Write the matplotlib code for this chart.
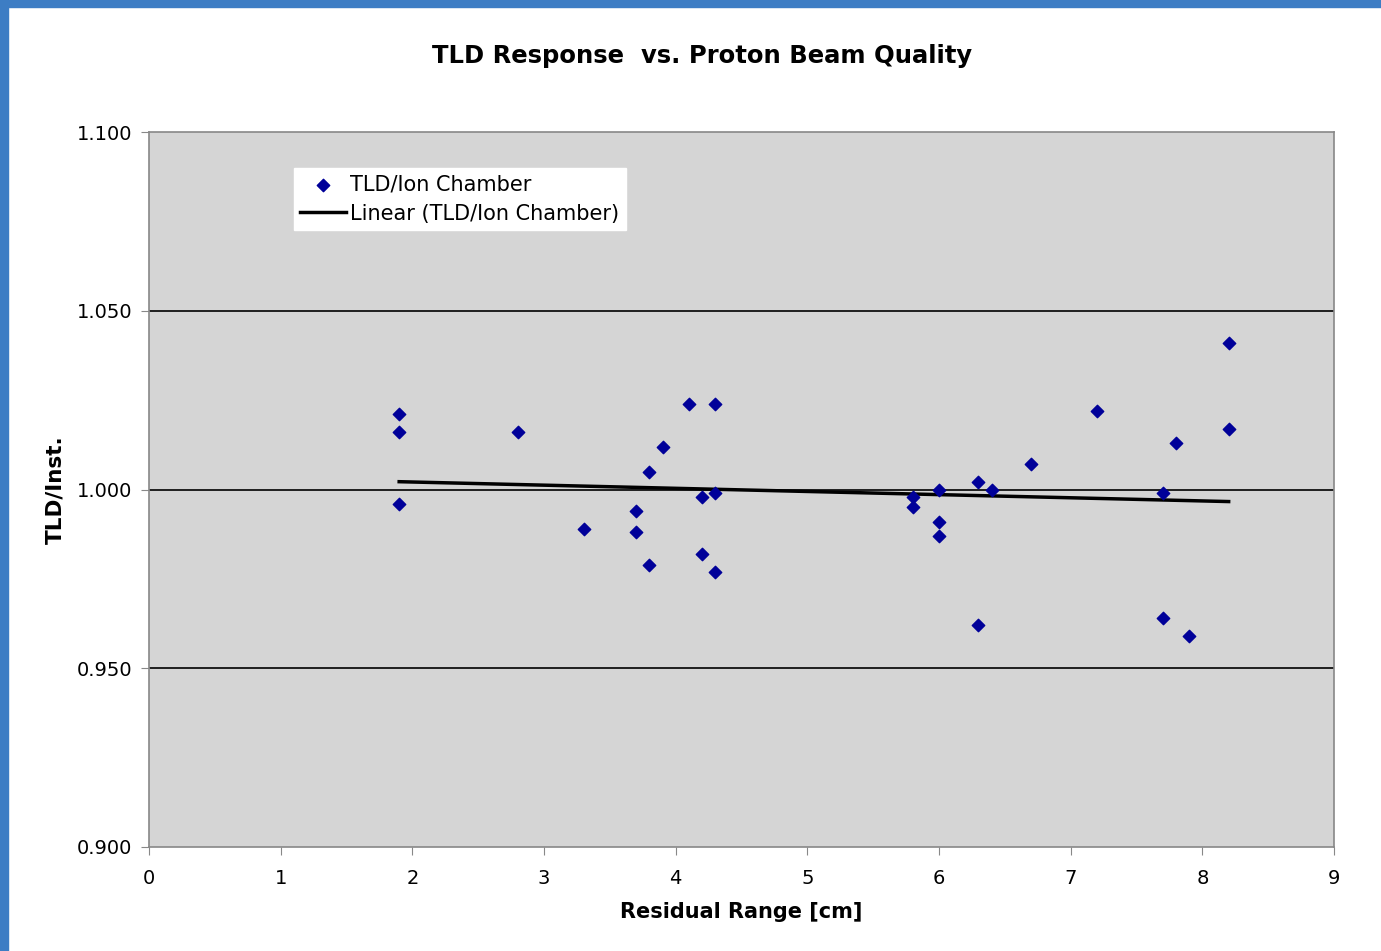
import matplotlib
matplotlib.use("Agg")
import matplotlib.pyplot as plt
import numpy as np
from matplotlib.patches import Rectangle

x_vals = [1.9, 1.9, 1.9, 2.8, 3.3, 3.7, 3.7, 3.8, 3.8, 3.9, 4.1, 4.2, 4.2, 4.3, 4.3, 4.3,
          5.8, 5.8, 6.0, 6.0, 6.0, 6.3, 6.3, 6.4, 6.7, 7.2, 7.7, 7.7, 7.8, 7.9, 8.2, 8.2]
y_vals = [1.021, 1.016, 0.996, 1.016, 0.989, 0.994, 0.988, 1.005, 0.979, 1.012, 1.024, 0.998, 0.982,
          1.024, 0.999, 0.977, 0.998, 0.995, 1.000, 0.991, 0.987, 1.002, 0.962, 1.000, 1.007,
          1.022, 0.999, 0.964, 1.013, 0.959, 1.041, 1.017]
x_ticks = [0, 1, 2, 3, 4, 5, 6, 7, 8, 9]
y_ticks = [0.900, 0.950, 1.000, 1.050, 1.100]

fig = plt.figure(figsize=(13.81, 9.51), dpi=100)
fig.patch.set_facecolor("white")
blue = "#3d7dc4"
fig.patches.append(Rectangle((0, 0), 8/1381, 1, transform=fig.transFigure, color=blue, zorder=-10))
fig.patches.append(Rectangle((0, 1-7/951), 1, 7/951, transform=fig.transFigure, color=blue, zorder=-10))

ax = fig.add_axes([149/1381, 1-847/951, (1334-149)/1381, (847-132)/951])
ax.set_facecolor("#d5d5d5")
ax.set_xlim(0, 9)
ax.set_ylim(0.9, 1.1)
ax.set_xticks(x_ticks)
ax.set_yticks(y_ticks)
ax.set_yticklabels([f"{v:.3f}" for v in y_ticks])
for yv in y_ticks[1:-1]:
    ax.axhline(yv, color="black", lw=1.2, zorder=1)
for s in ax.spines.values():
    s.set_color("#888888")
    s.set_linewidth(1.2)
ax.tick_params(axis="both", labelsize=14, color="#888888", length=6, direction="out")
ax.tick_params(axis="x", pad=10)
ax.tick_params(axis="y", pad=6)

ax.scatter(x_vals, y_vals, marker="D", s=40, color="#000099", zorder=3, label="TLD/Ion Chamber")
coef = np.polyfit(x_vals, y_vals, 1)
xl = np.array([min(x_vals), max(x_vals)])
ax.plot(xl, np.polyval(coef, xl), color="black", lw=2.5, zorder=2, label="Linear (TLD/Ion Chamber)")

leg = ax.legend(loc="upper left", bbox_to_anchor=((294-149)/1185, 1-(168-132)/715),
                fontsize=15, frameon=True, fancybox=False, edgecolor="white", framealpha=1,
                handlelength=2.2, handletextpad=0.2, borderpad=0.3, labelspacing=0.45, borderaxespad=0)

ax.set_xlabel("Residual Range [cm]", fontsize=15, fontweight="bold", labelpad=10)
ax.set_ylabel("TLD/Inst.", fontsize=15.5, fontweight="bold", labelpad=8)
fig.text(702/1381, 1-56/951, "TLD Response  vs. Proton Beam Quality", ha="center", va="center",
         fontsize=17.5, fontweight="bold")

fig.savefig("out.png", dpi=100)
